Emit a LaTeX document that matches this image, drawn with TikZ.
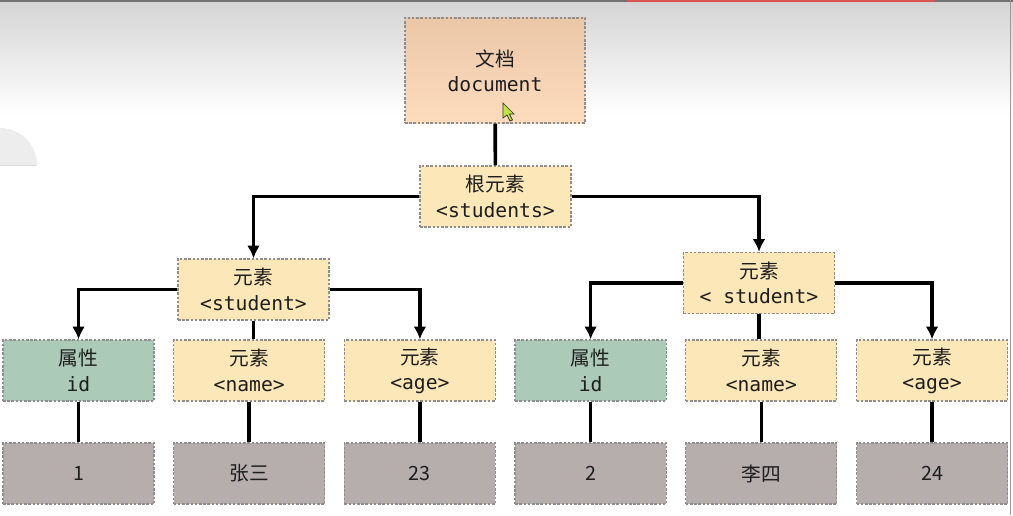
\documentclass[tikz,border=0pt]{standalone}
\usepackage{fontspec}
\setmainfont{Noto Sans CJK SC}
\setmonofont{DejaVu Sans Mono}
\usetikzlibrary{positioning,arrows.meta}

\definecolor{docTop}{HTML}{EBC7A8}
\definecolor{docBot}{HTML}{FDDCBE}
\definecolor{elemFill}{HTML}{FCE7B8}
\definecolor{attrFill}{HTML}{ABCAB7}
\definecolor{valFill}{HTML}{B5AEAC}
\definecolor{edgeGray}{HTML}{8E8E8E}
\definecolor{txt}{HTML}{1E1E1E}
\definecolor{barRed}{HTML}{D9534F}

\begin{document}
\begin{tikzpicture}[x=0.025cm, y=-0.025cm]
\tikzstyle{box}=[rectangle, draw=edgeGray, line width=0.9pt, dash pattern=on 1.8pt off 1.2pt, minimum width=3.775cm, minimum height=1.525cm, align=center, text=txt, font=\fontsize{14}{18}\selectfont]
\tikzstyle{elem}=[box, fill=elemFill]
\tikzstyle{attr}=[box, fill=attrFill]
\tikzstyle{val}=[box, fill=valFill]
\tikzstyle{connect}=[-{Latex[length=9pt, width=9pt]}, line width=2.6pt]
\tikzstyle{link}=[line width=2.6pt]

  % 背景
  \useasboundingbox (0,0) rectangle (1013,515);
  \fill[white] (0,0) rectangle (1013,515);
  \shade[top color=black!17, bottom color=white] (0,0) rectangle (1013,115);
  \fill[black!7] (0,165) -- (0,128) arc (270:360:37) -- cycle;
  \draw[black!14, line width=0.6pt] (0,165) -- (37,165);
  \fill[black!55] (0,0) rectangle (1013,1.5);
  \fill[barRed] (627,0) rectangle (935,1.5);
  \draw[black!40, line width=0.7pt] (1010.5,0) -- (1010.5,515);

  % 节点
  \node[box, top color=docTop, bottom color=docBot, minimum width=4.5cm, minimum height=2.625cm] (doc) at (495,70.5) {文档\\\texttt{document}};
  \node[elem] (root) at (495.5,196.5) {根元素\\\texttt{<students>}};
  \node[elem] (stu_l) at (253.5,289.5) {元素\\\texttt{<student>}};
  \node[elem] (stu_r) at (759,283) {元素\\\texttt{< student>}};

  \node[attr] (id_l) at (78.5,370.5) {属性\\\texttt{id}};
  \node[elem] (name_l) [right=0.46cm of id_l] {元素\\\texttt{<name>}};
  \node[elem] (age_l) [right=0.46cm of name_l] {元素\\\texttt{<age>}};
  \node[attr] (id_r) [right=0.46cm of age_l] {属性\\\texttt{id}};
  \node[elem] (name_r) [right=0.46cm of id_r] {元素\\\texttt{<name>}};
  \node[elem] (age_r) [right=0.46cm of name_r] {元素\\\texttt{<age>}};

  \node[val] (v_id_l) [below=1.02cm of id_l] {1};
  \node[val] (v_name_l) [below=1.02cm of name_l] {张三};
  \node[val] (v_age_l) [below=1.02cm of age_l] {23};
  \node[val] (v_id_r) [below=1.02cm of id_r] {2};
  \node[val] (v_name_r) [below=1.02cm of name_r] {李四};
  \node[val] (v_age_r) [below=1.02cm of age_r] {24};

  % 连线
  \draw[link] (doc) -- (root);
  \draw[connect] (root.west) -| (stu_l.north);
  \draw[connect] (root.east) -| (stu_r.north);
  \draw[connect] (stu_l.west) -| (id_l.north);
  \draw[link] (stu_l.south) -- (stu_l.south |- name_l.north);
  \draw[connect] (stu_l.east) -| (age_l.north);
  \draw[connect] (stu_r.west) -| (id_r.north);
  \draw[link] (stu_r.south) -- (stu_r.south |- name_r.north);
  \draw[connect] (stu_r.east) -| (age_r.north);
  \foreach \n in {id_l, name_l, age_l, id_r, name_r, age_r}
    \draw[link] (\n) -- (v_\n);

  % 鼠标指针
  \filldraw[fill=yellow!70!green!80, draw=black!80, line width=0.5pt]
    (503,103) -- (503,118) -- (507,115) -- (510,121) -- (512.5,120) -- (509.5,114) -- (514,114) -- cycle;
\end{tikzpicture}
\end{document}
